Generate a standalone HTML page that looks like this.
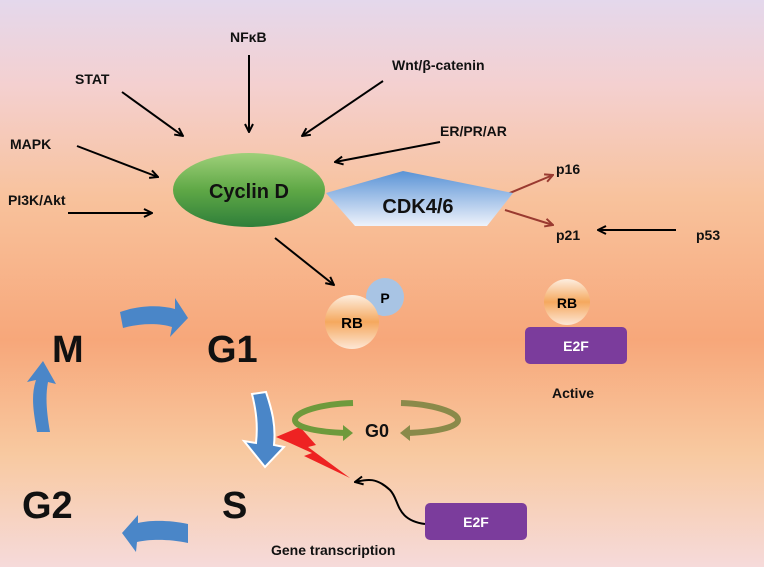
<!DOCTYPE html>
<html><head><meta charset="utf-8"><style>
html,body{margin:0;padding:0;}
svg{display:block;font-family:"Liberation Sans",sans-serif;font-weight:bold;}
</style></head><body>
<svg width="764" height="567" viewBox="0 0 764 567" xmlns="http://www.w3.org/2000/svg">
<defs>
<linearGradient id="bg" x1="0" y1="0" x2="0" y2="1">
<stop offset="0" stop-color="#e4d8ec"/>
<stop offset="0.15" stop-color="#f4d0d0"/>
<stop offset="0.35" stop-color="#f8c29c"/>
<stop offset="0.6" stop-color="#f7a77a"/>
<stop offset="0.8" stop-color="#f8c9a0"/>
<stop offset="1" stop-color="#f6dada"/>
</linearGradient>
<linearGradient id="cy" x1="0" y1="0" x2="0" y2="1">
<stop offset="0" stop-color="#9fd07a"/><stop offset="0.5" stop-color="#5fa846"/><stop offset="1" stop-color="#2f7f3a"/>
</linearGradient>
<linearGradient id="cdk" x1="0" y1="0" x2="0" y2="1">
<stop offset="0" stop-color="#5a93d6"/><stop offset="1" stop-color="#eef2fb"/>
</linearGradient>
<linearGradient id="rb" x1="0" y1="0" x2="0" y2="1">
<stop offset="0" stop-color="#fdeee0"/><stop offset="0.5" stop-color="#f5a85e"/><stop offset="1" stop-color="#fde7d5"/>
</linearGradient>
<marker id="ab" markerWidth="10" markerHeight="10" refX="9" refY="5" orient="auto" markerUnits="userSpaceOnUse"><path d="M1,1 L9,5 L1,9" fill="none" stroke="#000" stroke-width="2"/></marker>
<marker id="ar" markerWidth="10" markerHeight="10" refX="9" refY="5" orient="auto" markerUnits="userSpaceOnUse"><path d="M1,1 L9,5 L1,9" fill="none" stroke="#9a3a30" stroke-width="2"/></marker>
</defs>
<rect width="764" height="567" fill="url(#bg)"/>
<g font-size="14" fill="#111">
<text x="230" y="42">NFκB</text>
<text x="75" y="84">STAT</text>
<text x="392" y="70">Wnt/β-catenin</text>
<text x="440" y="136">ER/PR/AR</text>
<text x="10" y="149">MAPK</text>
<text x="8" y="205">PI3K/Akt</text>
<text x="556" y="174">p16</text>
<text x="556" y="240">p21</text>
<text x="696" y="240">p53</text>
<text x="552" y="398">Active</text>
<text x="271" y="555">Gene transcription</text>
</g>
<g stroke="#000" stroke-width="2" fill="none" marker-end="url(#ab)">
<line x1="249" y1="55" x2="249" y2="132"/>
<line x1="122" y1="92" x2="183" y2="136"/>
<line x1="383" y1="81" x2="302" y2="136"/>
<line x1="440" y1="142" x2="335" y2="162"/>
<line x1="77" y1="146" x2="158" y2="177"/>
<line x1="68" y1="213" x2="152" y2="213"/>
<line x1="275" y1="238" x2="334" y2="285"/>
<line x1="676" y1="230" x2="598" y2="230"/>
<path d="M425,524 C395,520 400,500 390,490 C375,476 365,480 355,482"/>
</g>
<g stroke="#9a3a30" stroke-width="2" marker-end="url(#ar)">
<line x1="505" y1="195" x2="553" y2="175"/>
<line x1="505" y1="210" x2="553" y2="225"/>
</g>
<ellipse cx="249" cy="190" rx="76" ry="37" fill="url(#cy)"/>
<text x="249" y="198" font-size="20" text-anchor="middle" fill="#111">Cyclin D</text>
<polygon points="326,193 403,171 513,193 487,226 355,226" fill="url(#cdk)"/>
<text x="418" y="213" font-size="20" text-anchor="middle" fill="#111">CDK4/6</text>
<circle cx="385" cy="297" r="19" fill="#a8c4e4"/>
<text x="385" y="303" font-size="14" text-anchor="middle">P</text>
<circle cx="352" cy="322" r="27" fill="url(#rb)"/>
<text x="352" y="328" font-size="15" text-anchor="middle">RB</text>
<circle cx="567" cy="302" r="23" fill="url(#rb)"/>
<text x="567" y="308" font-size="14" text-anchor="middle">RB</text>
<rect x="525" y="327" width="102" height="37" rx="5" fill="#7b3c9c"/>
<text x="576" y="351" font-size="14" text-anchor="middle" fill="#fff">E2F</text>
<rect x="425" y="503" width="102" height="37" rx="5" fill="#7b3c9c"/>
<text x="476" y="527" font-size="14" text-anchor="middle" fill="#fff">E2F</text>
<g font-size="38" fill="#111">
<text x="52" y="362">M</text>
<text x="207" y="362">G1</text>
<text x="22" y="518">G2</text>
<text x="222" y="518">S</text>
</g>
<text x="365" y="437" font-size="18" fill="#111">G0</text>
<g fill="#4a86c8">
<path d="M120,312 C140,305 160,305 175,309 L175,298 L188,318 L170,337 L172,327 C160,323 140,323 123,328 Z"/>
<path d="M37,432 C33,410 31,395 36,380 L27,382 L43,361 L56,384 L48,382 C45,398 47,414 50,432 Z"/>
<path d="M188,524 C170,520 150,520 138,523 L138,515 L122,533 L136,552 L137,542 C150,539 170,539 188,543 Z"/>
<path d="M252,394 L266,392 C272,410 276,425 274,445 L284,447 L265,467 L244,441 L256,443 C258,425 256,410 252,394 Z" stroke="#fff" stroke-width="2"/>
</g>
<path d="M276,437 L300,427 L316,445 L308,447 L350,478 L304,456 L312,453 L290,443 Z" fill="#ee2222"/>
<g fill="none" stroke-width="6">
<path d="M353,403 C320,404 295,412 295,420 C295,428 320,432 345,433" stroke="#6e9a3c"/>
<path d="M401,403 C432,404 458,412 458,420 C458,428 432,432 408,433" stroke="#8a8a4a"/>
</g>
<polygon points="343,425 353,433 343,441" fill="#6e9a3c"/>
<polygon points="410,425 400,433 410,441" fill="#8a8a4a"/>
</svg>
</body></html>
